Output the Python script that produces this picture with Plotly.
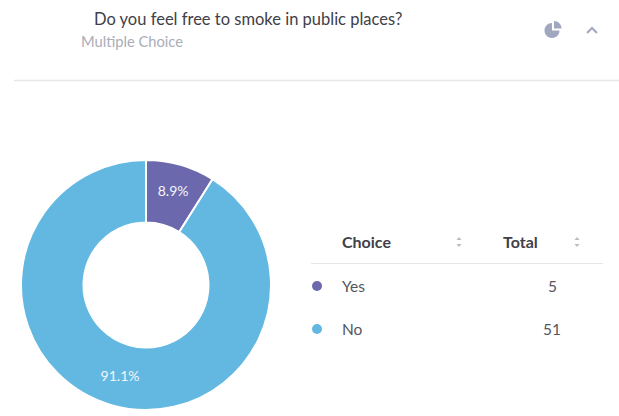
import plotly.graph_objects as go

WIDTH, HEIGHT = 619, 416

# Survey responses
question = "Do you feel free to smoke in public places?"
question_type = "Multiple Choice"
choices = ["Yes", "No"]
totals = [5, 51]
slice_colors = ["#6c68ad", "#62b8e1"]
table_headers = ["Choice", "Total"]

FONT = "Lato, 'Open Sans', sans-serif"
HEADER_INK = "#3f4048"
MUTED_INK = "#a9adb8"
BODY_INK = "#55565e"
RULE = "#e6e7ea"
ICON = "#a2a7c0"
ROW_Y = [286, 329]

fig = go.Figure()

fig.add_trace(go.Pie(
    labels=choices,
    values=totals,
    hole=0.5,
    sort=False,
    direction="clockwise",
    rotation=0,
    marker=dict(colors=slice_colors, line=dict(color="white", width=2)),
    textinfo="percent",
    texttemplate="%{percent:.1%}",
    textposition="inside",
    insidetextorientation="horizontal",
    textfont=dict(family=FONT, size=14, color="#f2f5fa"),
    showlegend=False,
    domain=dict(x=[21 / WIDTH, 271 / WIDTH], y=[1 - 410 / HEIGHT, 1 - 160 / HEIGHT]),
))


def label(x, y, text, size, color, anchor="left", weight=None):
    fig.add_annotation(
        x=x, y=y, xref="x", yref="y", text=f"<b>{text}</b>" if weight else text,
        showarrow=False, xanchor=anchor, yanchor="middle",
        font=dict(family=FONT, size=size, color=color),
    )


# Card header
label(92, 19, question, 16.5, HEADER_INK)
label(79, 41, question_type, 14.7, MUTED_INK)

# Table header and rows
label(340, 241, table_headers[0], 16, HEADER_INK, weight=True)
label(501, 241, table_headers[1], 16, HEADER_INK, weight=True)
for y, choice, total, color in zip(ROW_Y, choices, totals, slice_colors):
    label(340, y, choice, 15.5, BODY_INK)
    label(552, y, str(total), 15.5, BODY_INK, anchor="center")

shapes = [
    dict(type="line", x0=14, x1=619, y0=80.5, y1=80.5, line=dict(color=RULE, width=1.5)),
    dict(type="line", x0=311, x1=603, y0=263.5, y1=263.5, line=dict(color=RULE, width=1)),
    # Chart-type icon: a three-quarter disc with one wedge pulled out
    dict(type="path",
         path="M 552 23 C 547.6 23 544.5 26.6 544.5 30.5 C 544.5 34.6 547.9 38 552 38 "
              "C 556.1 38 559.5 34.9 559.5 30.5 L 552 30.5 Z",
         fillcolor=ICON, line=dict(width=0)),
    dict(type="path", path="M 554 21 C 558.1 21 561.5 24.4 561.5 28.5 L 554 28.5 Z",
         fillcolor=ICON, line=dict(width=0)),
    # Collapse chevron
    dict(type="path", path="M 587 33 L 592 28 L 597 33", line=dict(color=ICON, width=2)),
]

# Legend dots
for y, color in zip(ROW_Y, slice_colors):
    shapes.append(dict(type="circle", x0=312, x1=322, y0=y - 5, y1=y + 5,
                       fillcolor=color, line=dict(width=0)))

# Sort carets beside each table heading
for x in (459, 577):
    shapes.append(dict(type="path", path=f"M {x - 2.5} 240 L {x} 237 L {x + 2.5} 240 Z",
                       fillcolor="#b9bcc6", line=dict(width=0)))
    shapes.append(dict(type="path", path=f"M {x - 2.5} 244 L {x} 247 L {x + 2.5} 244 Z",
                       fillcolor="#b9bcc6", line=dict(width=0)))

fig.update_layout(
    width=WIDTH, height=HEIGHT,
    margin=dict(l=0, r=0, t=0, b=0),
    paper_bgcolor="white", plot_bgcolor="white",
    xaxis=dict(range=[0, WIDTH], visible=False, fixedrange=True),
    yaxis=dict(range=[HEIGHT, 0], visible=False, fixedrange=True),
    shapes=shapes,
)

fig.write_html("out.html", config={"displayModeBar": False})
